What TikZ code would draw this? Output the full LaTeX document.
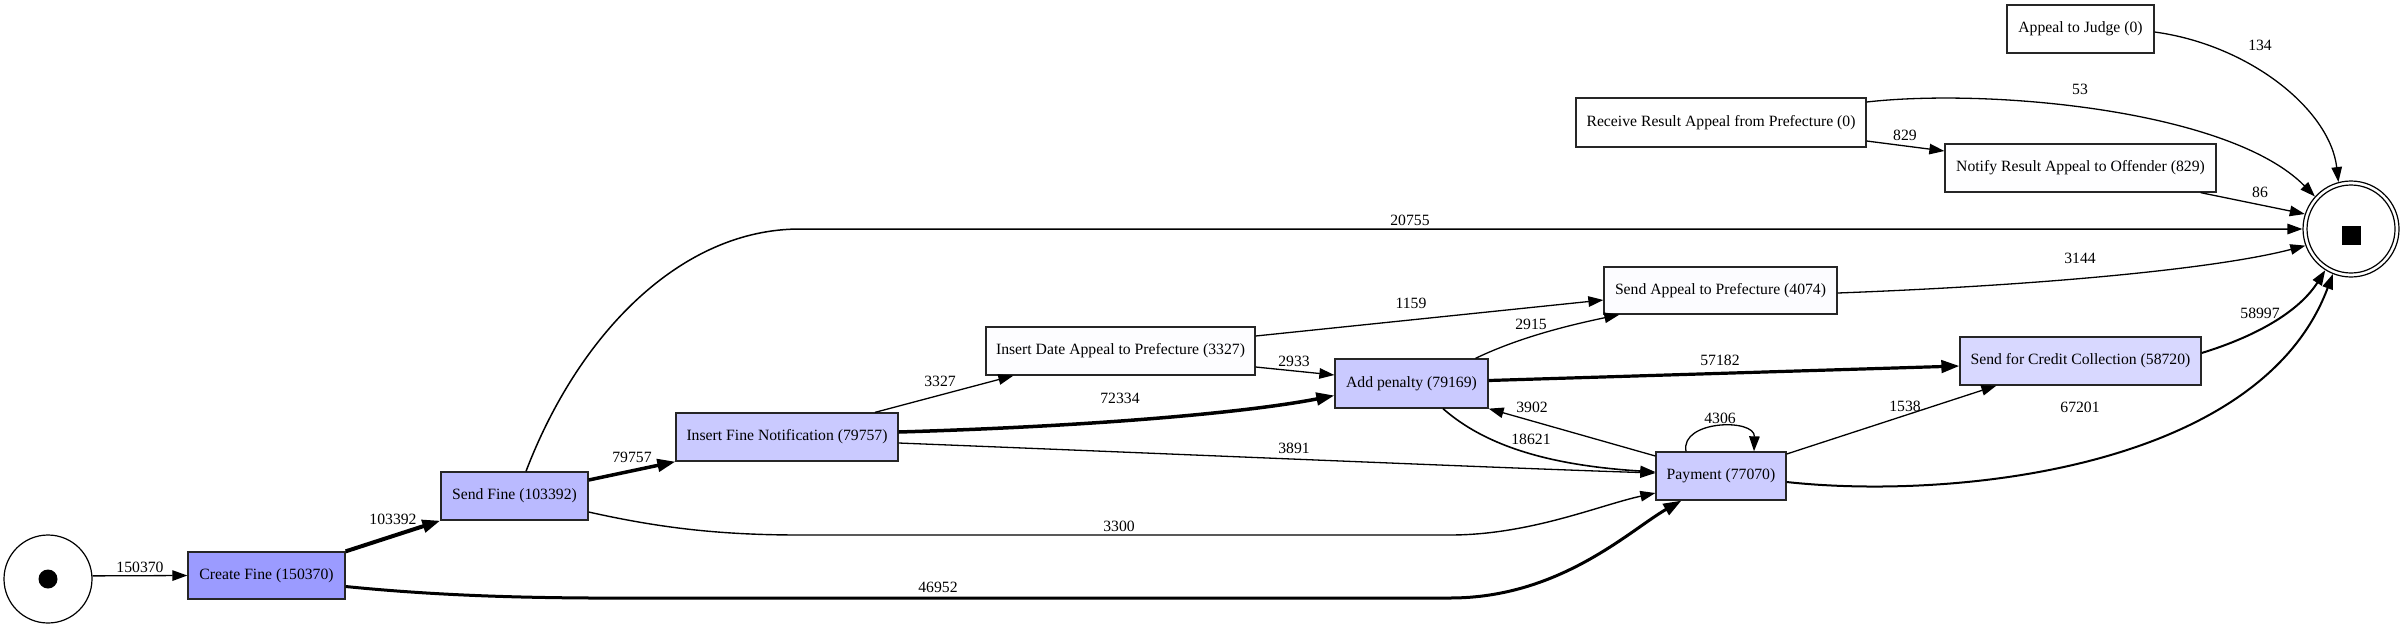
\documentclass[tikz,border=0pt]{standalone}
\usepackage{fontspec}
\usetikzlibrary{arrows.meta,calc}
\newfontfamily\pmlabelfont{Liberation Serif}
\newcommand\pmlab{\pmlabelfont\fontsize{15.7}{18}\selectfont}
\definecolor{cCF}{HTML}{9B9BFF}
\definecolor{cSF}{HTML}{BABAFF}
\definecolor{cIFN}{HTML}{CACAFF}
\definecolor{cAP}{HTML}{CACAFF}
\definecolor{cPAY}{HTML}{CCCCFF}
\definecolor{cSCC}{HTML}{D8D8FF}
\definecolor{cSAP}{HTML}{FCFCFF}
\definecolor{cIDA}{HTML}{FDFDFF}
\definecolor{cNRA}{HTML}{FEFEFF}
\tikzset{
  box/.style={draw=black!85, line width=1.3pt, inner sep=0pt, minimum height=48pt, font=\pmlab},
  lbl/.style={inner sep=0pt, font=\pmlab},
  ar/.style={-{Triangle[length=15pt,width=10.5pt]}, line width=1.3pt},
  arB/.style={-{Triangle[length=18pt,width=12.5pt]}},
}
\begin{document}
\begin{tikzpicture}[x=1pt,y=-1pt]
\useasboundingbox (0,0) rectangle (2404,625);
% places
\node[circle, draw, line width=1.2pt, minimum size=88pt, inner sep=0pt] (start) at (48,579) {};
\fill (start.center) circle (9.5pt);
\node[circle, draw, line width=1.2pt, minimum size=96pt, inner sep=0pt] (end) at (2351,229) {};
\draw[line width=1.2pt] (end.center) circle (44pt);
\fill ($(end.center)+(-9.5,-3.5)$) rectangle ($(end.center)+(9.5,15.5)$);
% activities
\node[box, fill=cCF, minimum width=157pt, minimum height=47pt] (cf) at (266.5,575.5) {Create Fine (150370)};
\node[box, fill=cSF, minimum width=147pt] (sf) at (514.5,496) {Send Fine (103392)};
\node[box, fill=cIFN, minimum width=222pt] (ifn) at (787,437) {Insert Fine Notification (79757)};
\node[box, fill=cIDA, minimum width=269pt] (ida) at (1120.5,351) {Insert Date Appeal to Prefecture (3327)};
\node[box, fill=cAP, minimum width=153pt, minimum height=49pt] (ap) at (1411.5,383.5) {Add penalty (79169)};
\node[box, fill=cSAP, minimum width=233pt, minimum height=47pt] (sap) at (1720.5,290.5) {Send Appeal to Prefecture (4074)};
\node[box, fill=cSCC, minimum width=241pt] (scc) at (2080.5,361) {Send for Credit Collection (58720)};
\node[box, fill=cPAY, minimum width=130pt] (pay) at (1721,476) {Payment (77070)};
\node[box, fill=white, minimum width=147pt] (aj) at (2080.5,29) {Appeal to Judge (0)};
\node[box, fill=white, minimum width=290pt, minimum height=49pt] (rra) at (1721,122.5) {Receive Result Appeal from Prefecture (0)};
\node[box, fill=cNRA, minimum width=271pt] (nra) at (2080.5,168) {Notify Result Appeal to Offender (829)};
% arcs
\draw[ar] (start.4) -- (cf.west);
\draw[ar, arB, line width=4pt] (cf.north east) -- (sf.south west);
\draw[ar, arB, line width=3pt] ([yshift=-11pt]cf.east) .. controls (480,600) and (600,598) .. (700,598) -- (1450,598) .. controls (1560,598) and (1630,530) .. ([xshift=26pt]pay.south west);
\draw[ar, arB, line width=3.5pt] ([yshift=16pt]sf.east) -- (ifn.south west);
\draw[ar, line width=1.5pt] ([xshift=11.5pt]sf.north) .. controls (578,335) and (680,229) .. (800,229) -- (end.west);
\draw[ar, line width=1.4pt] ([yshift=-16pt]sf.east) .. controls (660,528) and (720,535) .. (800,535) -- (1450,535) .. controls (1530,535) and (1600,505) .. ([yshift=-17pt]pay.west);
\draw[ar] ([xshift=88pt]ifn.north) -- ([xshift=28pt]ida.south west);
\draw[ar, arB, line width=3.5pt] ([yshift=5pt]ifn.east) .. controls (1100,426) and (1250,412) .. ([yshift=-12pt]ap.west);
\draw[ar] ([yshift=-6pt]ifn.east) .. controls (1200,455) and (1500,468) .. ([yshift=3pt]pay.west);
\draw[ar] ([yshift=15pt]ida.east) -- ([yshift=-9.5pt]sap.west);
\draw[ar] ([yshift=-16pt]ida.east) -- ([yshift=8.5pt]ap.west);
\draw[ar] ([xshift=64pt]ap.north) .. controls (1520,337) and (1570,325) .. ([xshift=16pt]sap.south west);
\draw[ar, arB, line width=3.2pt] ([yshift=3pt]ap.east) -- ([yshift=-5pt]scc.west);
\draw[ar, line width=1.6pt] ([xshift=31.5pt]ap.south) .. controls (1490,450) and (1560,466) .. ([yshift=4pt]pay.west);
\draw[ar] ([yshift=20pt]pay.west) -- (ap.south east);
\draw[ar] ([xshift=-35pt]pay.north) .. controls (1680,420) and (1755,418) .. ([xshift=33pt]pay.north);
\draw[ar] ([yshift=22pt]pay.east) -- ([xshift=37pt]scc.south west);
\draw[ar, line width=2pt] ([yshift=-6pt]pay.east) .. controls (1950,500) and (2260,470) .. (end.-112);
\draw[ar, line width=2pt] ([yshift=8pt]scc.east) .. controls (2260,335) and (2300,310) .. (end.-122);
\draw[ar] ([yshift=-2.5pt]sap.east) .. controls (2050,285) and (2220,268) .. (end.-160);
\draw[ar] ([yshift=20.5pt]rra.east) .. controls (1990,88) and (2230,110) .. (end.138);
\draw[ar] ([yshift=-18.5pt]rra.east) -- ([yshift=17pt]nra.west);
\draw[ar] ([xshift=-16pt]nra.south east) -- (end.162);
\draw[ar] ([yshift=-3pt]aj.east) .. controls (2250,45) and (2330,110) .. (end.105);
% arc labels
\node[lbl] (l1) at (140,567) {150370};
\node[lbl] (l2) at (393,519) {103392};
\node[lbl] (l3) at (938,587) {46952};
\node[lbl] (l4) at (632,457) {79757};
\node[lbl] (l5) at (1410,220) {20755};
\node[lbl] (l6) at (1119,526) {3300};
\node[lbl] (l7) at (940,381) {3327};
\node[lbl] (l8) at (1120,398) {72334};
\node[lbl] (l9) at (1294,448) {3891};
\node[lbl] (l10) at (1411,303) {1159};
\node[lbl] (l11) at (1294,361) {2933};
\node[lbl] (l12) at (1531,324) {2915};
\node[lbl] (l13) at (1720,360) {57182};
\node[lbl] (l14) at (1531,439) {18621};
\node[lbl] (l15) at (1532,407) {3902};
\node[lbl] (l16) at (1720,418) {4306};
\node[lbl] (l17) at (1905,406) {1538};
\node[lbl] (l18) at (2080,407) {67201};
\node[lbl] (l19) at (2260,313) {58997};
\node[lbl] (l20) at (2080,258) {3144};
\node[lbl] (l21) at (2080,89) {53};
\node[lbl] (l22) at (1905,135) {829};
\node[lbl] (l23) at (2260,192) {86};
\node[lbl] (l24) at (2260,45) {134};
\end{tikzpicture}
\end{document}
